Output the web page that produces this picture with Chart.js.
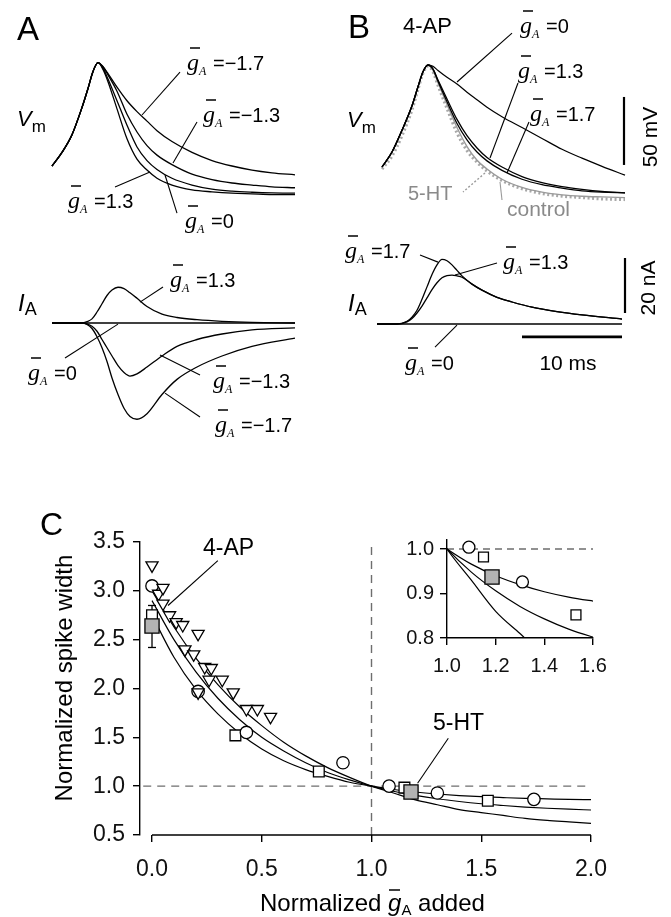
<!DOCTYPE html>
<html>
<head>
<meta charset="utf-8">
<title>A-current and spike width</title>
<script src="https://cdn.jsdelivr.net/npm/chart.js@4.4.1/dist/chart.umd.min.js"></script>
<style>
  html, body { margin: 0; padding: 0; background: #fff; }
  #page { position: relative; width: 671px; height: 917px; overflow: hidden; background: #fff; }
  #page canvas { position: absolute; }
  #ov { position: absolute; left: 0; top: 0; pointer-events: none; }
  #ov text { font-family: "Liberation Sans", Arial, sans-serif; }
</style>
</head>
<body>
<div id="page">
  <canvas id="aVm"></canvas>
  <canvas id="aIA"></canvas>
  <canvas id="bVm"></canvas>
  <canvas id="bIA"></canvas>
  <canvas id="cMain"></canvas>
  <canvas id="cInset"></canvas>
  <svg id="ov" width="671" height="917" xmlns="http://www.w3.org/2000/svg"></svg>
</div>
<script>
// ---- Panel A: model spikes (time in ms, Vm in mV from onset, IA in nA) ----
const tA = [0, 1, 2, 3, 3.6, 4.1, 4.6, 5.1, 5.6, 6.5, 7.5, 8.5, 9.5, 10.5, 12, 14, 16, 18, 20, 22, 24.3];
const vmA_gp13 = [0, 10, 23, 43, 57, 69.5, 76, 71, 62, 42, 20, 5, -3, -9, -14, -17.5, -19, -20, -20.5, -21, -21];
const vmA_g0   = [0, 10, 23, 43, 57, 69.5, 76, 72, 64, 48, 30, 14, 4, -2.5, -9, -14, -17, -18.5, -19.3, -19.8, -20];
const vmA_gm13 = [0, 10, 23, 43, 57, 69.5, 76, 73, 67, 55, 38, 25, 15, 8, 1, -6, -10, -12.5, -14, -15.3, -16];
const vmA_gm17 = [0, 10, 23, 43, 57, 69.5, 76, 73, 68, 58, 48, 40, 33, 26, 18, 10, 4, 0, -3, -5, -6.5];

const tIA = [0, 2, 3, 3.5, 4, 4.5, 5, 5.5, 6, 6.6, 7.2, 7.8, 8.5, 9.5, 11, 12.5, 14.5, 17, 20, 24.3];
const iaA_gp13 = [0, 0, 0, 0.5, 1.5, 4, 7, 10, 12, 13, 12.5, 11, 9, 6, 3.2, 2, 1.2, 0.6, 0.2, 0];
const iaA_g0   = [0, 0, 0, 0, 0, 0, 0, 0, 0, 0, 0, 0, 0, 0, 0, 0, 0, 0, 0, 0];
const iaA_gm13 = [0, 0, 0, -0.3, -1.2, -3, -6, -9, -12, -15.5, -18, -19.3, -18.5, -16, -12, -8.5, -6, -4, -2.5, -1.8];
const iaA_gm17 = [0, 0, 0, -0.5, -2, -5, -9, -14, -20, -26, -31, -34, -35, -33, -26, -20.5, -16, -12, -8.5, -5.5];

// ---- Panel B: 4-AP spike with gA added back, control and 5-HT ----
const tB = [0, 1, 2, 3, 3.6, 4.1, 4.6, 5.1, 5.6, 6.5, 7.5, 8.5, 9.5, 10.5, 12, 14, 16, 18, 20, 22, 24.3];
const vmB_g0   = [0, 11, 27, 45, 59, 70, 75, 74, 71, 66, 61, 55, 49.5, 44, 37, 29, 21, 13, 6.5, 0.5, -6];
const vmB_g13  = [0, 11, 27, 45, 59, 70, 75, 72, 64, 50, 35, 23, 14, 7, 0, -7, -11.5, -14.5, -16.5, -18, -19];
const vmB_g17  = [0, 11, 27, 45, 59, 70, 75, 72, 63, 48, 32, 20, 11, 4.5, -2.5, -9, -13, -15.5, -17.5, -18.5, -19];
const vmB_ctl  = [0, 11, 27, 45, 59, 70, 75, 71, 62, 46, 29, 15, 5, -1.5, -9, -15, -18.5, -20.5, -21.5, -22, -22.5];
const vmB_5ht  = [-1.5, 8, 23, 42, 57, 69, 74, 70, 60, 43, 25, 12, 3.5, -3, -10, -16, -19.5, -21.5, -22.5, -23.5, -24];

const tIB = [-0.5, 1.5, 2.5, 3, 3.5, 4, 4.5, 5, 5.5, 6, 6.5, 7, 7.5, 8, 9, 10, 11.5, 13, 15, 17.5, 20, 24];
const iaB_g17 = [0, 0, 1, 2.5, 5, 9, 13.5, 18, 21.5, 23.5, 23, 21.5, 19.5, 17.5, 14.5, 12.3, 9.7, 8, 6.1, 4.5, 3.3, 1.8];
const iaB_g13 = [0, 0, 0.8, 2, 4, 6.5, 9.5, 12.5, 15, 16.8, 17.6, 17.8, 17.5, 17, 14.5, 12.3, 9.7, 8, 6.1, 4.5, 3.3, 1.8];
const iaB_g0  = [0, 0, 0, 0, 0, 0, 0, 0, 0, 0, 0, 0, 0, 0, 0, 0, 0, 0, 0, 0, 0, 0];

// scale bars [x1, y1, x2, y2] in data units
const barVm = [24.2, 1.5, 24.2, 51.5];   // 50 mV
const barIA = [24.3, 4, 24.3, 24];       // 20 nA
const barMs = [14, -4.7, 24, -4.7];      // 10 ms

// label pointer lines [x1, y1, x2, y2] in data units
const ptrAVm = [[9.0, 37.5, 12.8, 69.1], [12.1, 2.2, 14.5, 32.4], [6.3, -15.4, 9.8, -4.4], [11.3, -6.6, 12.5, -34.6]];
const ptrAIA = [[8.8, 7.6, 11.1, 13.1], [6.6, -0.4, 1.3, -12.7], [10.8, -11.6, 14.8, -18.9], [11.3, -25.5, 14.8, -34.2]];
const ptrBVm = [[7.5, 62.5, 13.0, 98.5], [10.8, 6.6, 13.6, 61.8], [12.5, -4.4, 14.7, 33.1]];
const ptrBCtl = [11.8, -11, 12.0, -24.3];
const ptr5HT = [10.3, -4.4, 8.1, -18.4];
const ptrBIA = [[3.8, 25.1, 5.6, 22.5], [11.5, 22.2, 7.3, 17.8], [5.3, -8.4, 7.5, -0.4]];

// ---- Panel C: normalized spike width vs normalized gA added ----
const tri4apX = [0, 0.03, 0.05, 0.05, 0.08, 0.11, 0.14, 0.21, 0.15, 0.19, 0.24, 0.27, 0.26, 0.32, 0.37, 0.21, 0.43, 0.48, 0.54];
const tri4apY = [3.26, 2.97, 3.03, 2.87, 2.75, 2.68, 2.65, 2.56, 2.40, 2.35, 2.22, 2.21, 2.09, 2.09, 1.96, 1.96, 1.79, 1.79, 1.71];
const circX = [0, 0.21, 0.43, 0.87, 1.08, 1.30, 1.74];
const circY = [3.05, 1.97, 1.55, 1.24, 1.0, 0.93, 0.865];
const sqX = [0, 0.38, 0.76, 1.15, 1.53];
const sqY = [2.75, 1.52, 1.15, 0.985, 0.85];
const graySqX = [0, 1.18];
const graySqY = [2.64, 0.94];
const errX = [0, 0];
const errY = [2.42, 2.85];

const fitX    = [0, 0.1, 0.2, 0.3, 0.4, 0.5, 0.6, 0.7, 0.8, 0.9, 1.0, 1.1, 1.2, 1.3, 1.4, 1.5, 1.6, 1.7, 1.8, 1.9, 2.0];
const fitTri  = [3.0, 2.63, 2.31, 2.04, 1.81, 1.62, 1.45, 1.31, 1.19, 1.09, 1.0, 0.93, 0.86, 0.81, 0.76, 0.73, 0.70, 0.67, 0.65, 0.635, 0.62];
const fitSq   = [2.90, 2.50, 2.17, 1.90, 1.68, 1.50, 1.36, 1.24, 1.14, 1.064, 1.0, 0.948, 0.906, 0.871, 0.843, 0.82, 0.802, 0.786, 0.774, 0.764, 0.756];
const fitCirc = [2.75, 2.32, 1.99, 1.74, 1.54, 1.38, 1.26, 1.17, 1.10, 1.04, 1.0, 0.966, 0.94, 0.92, 0.904, 0.892, 0.883, 0.875, 0.87, 0.865, 0.862];

const xTicksC = [0, 0.5, 1.0, 1.5, 2.0];
const yTicksC = [0.5, 1.0, 1.5, 2.0, 2.5, 3.0, 3.5];
const ptrC = [[0.30, 3.31, 0.073, 2.85], [1.35, 1.49, 1.21, 1.03]];

// inset (zoom of x 1.0-1.6)
const inCircX = [1.09, 1.31];
const inCircY = [1.004, 0.926];
const inSqX = [1.15, 1.53];
const inSqY = [0.982, 0.852];
const inGrayX = [1.185];
const inGrayY = [0.937];
const xTicksIn = [1.0, 1.2, 1.4, 1.6];
const yTicksIn = [0.8, 0.9, 1.0];

// ---------------------------------------------------------------
Chart.defaults.font.family = '"Liberation Sans", Arial, sans-serif';
Chart.defaults.color = '#000';

const GRAY = '#9a9a9a';

function pts(xs, ys) { return xs.map((x, i) => ({ x: x, y: ys[i] })); }

function curve(xs, ys, color, width, dash) {
  return {
    data: pts(xs, ys), showLine: true, borderColor: color, borderWidth: width,
    borderDash: dash || [], pointRadius: 0, fill: false, cubicInterpolationMode: 'monotone'
  };
}

function seg(s, color, width, dash) {
  return {
    data: [{ x: s[0], y: s[1] }, { x: s[2], y: s[3] }], showLine: true, borderColor: color,
    borderWidth: width, borderDash: dash || [], pointRadius: 0, fill: false, tension: 0
  };
}

function markers(xs, ys, style, r, fillCol, extra) {
  return Object.assign({
    data: pts(xs, ys), showLine: false, pointStyle: style, pointRadius: r,
    pointBackgroundColor: fillCol, pointBorderColor: '#000', pointBorderWidth: 1.3
  }, extra || {});
}

// trace panel: canvas placed in page px, scales chosen so origin/px-per-unit match the figure
function tracePanel(id, box, ox, oy, sx, sy, datasets) {
  const cv = document.getElementById(id);
  cv.width = box.w; cv.height = box.h;
  cv.style.left = box.left + 'px'; cv.style.top = box.top + 'px';
  new Chart(cv, {
    type: 'scatter',
    data: { datasets: datasets },
    options: {
      responsive: false, animation: false, events: [],
      layout: { padding: 0 },
      plugins: { legend: { display: false }, tooltip: { enabled: false } },
      scales: {
        x: { type: 'linear', display: false, min: (box.left - ox) / sx, max: (box.left + box.w - ox) / sx },
        y: { type: 'linear', display: false, min: (oy - box.top - box.h) / sy, max: (oy - box.top) / sy }
      }
    }
  });
}

const MS = 10, MV = 1.36, NA = 2.75;   // px per ms, per mV, per nA
const K = '#000';

tracePanel('aVm', { left: 0, top: 30, w: 330, h: 200 }, 52, 166, MS, MV, [
  curve(tA, vmA_gp13, K, 1.3), curve(tA, vmA_g0, K, 1.3),
  curve(tA, vmA_gm13, K, 1.3), curve(tA, vmA_gm17, K, 1.3)
].concat(ptrAVm.map(p => seg(p, K, 1.1))));

tracePanel('aIA', { left: 0, top: 245, w: 330, h: 205 }, 52, 323, MS, NA, [
  curve(tIA, iaA_gp13, K, 1.3), curve(tIA, iaA_g0, K, 1.6),
  curve(tIA, iaA_gm13, K, 1.3), curve(tIA, iaA_gm17, K, 1.3)
].concat(ptrAIA.map(p => seg(p, K, 1.1))));

tracePanel('bVm', { left: 335, top: 15, w: 330, h: 225 }, 382, 167, MS, MV, [
  curve(tB, vmB_g0, K, 1.2), curve(tB, vmB_g13, K, 1.3), curve(tB, vmB_g17, K, 1.3),
  curve(tB, vmB_ctl, GRAY, 1.4),
  curve(tB, vmB_5ht, '#a8a8a8', 3, [2, 2.5]),
  seg(barVm, K, 2.2), seg(ptrBCtl, GRAY, 1.1), seg(ptr5HT, GRAY, 1.4, [2, 2])
].concat(ptrBVm.map(p => seg(p, K, 1.1))));

tracePanel('bIA', { left: 335, top: 240, w: 330, h: 115 }, 382, 324, MS, NA, [
  curve(tIB, iaB_g17, K, 1.3), curve(tIB, iaB_g13, K, 1.3), curve(tIB, iaB_g0, K, 1.6),
  seg(barIA, K, 2.2), seg(barMs, K, 2.8)
].concat(ptrBIA.map(p => seg(p, K, 1.1))));

// draws the detached x axis line of panel C from opts.from to opts.to
const xAxisLine = {
  id: 'xAxisLine',
  afterDatasetsDraw(chart, args, opts) {
    if (opts.from === undefined) return;
    const { ctx, scales: { x, y } } = chart;
    const py = y.getPixelForValue(y.min);
    ctx.save();
    ctx.strokeStyle = '#000'; ctx.lineWidth = 1.4;
    ctx.beginPath();
    ctx.moveTo(x.getPixelForValue(opts.from), py);
    ctx.lineTo(x.getPixelForValue(opts.to), py);
    ctx.stroke();
    ctx.restore();
  }
};

function axisOpts(min, max, ticks, size, pad, fitProp, fitVal, borderOn) {
  return {
    type: 'linear', min: min, max: max,
    afterFit: s => { s[fitProp] = fitVal; },
    afterBuildTicks: s => { s.ticks = ticks.map(v => ({ value: v })); },
    border: { display: borderOn, color: '#000', width: 1.4 },
    grid: { drawOnChartArea: false, drawTicks: true, tickLength: 7, color: '#000', lineWidth: 1.4 },
    ticks: { color: '#111', font: { size: size }, padding: pad, maxRotation: 0, autoSkip: false,
             callback: v => Number(v).toFixed(1) }
  };
}

// main panel C
(function () {
  const cv = document.getElementById('cMain');
  cv.width = 671; cv.height = 437;
  cv.style.left = '0px'; cv.style.top = '480px';
  const dashCol = '#6e6e6e';
  new Chart(cv, {
    type: 'scatter',
    data: {
      datasets: [
        markers(graySqX, graySqY, 'rect', 10, '#b3b3b3'),
        markers(tri4apX, tri4apY, 'triangle', 7, '#fff', { pointRotation: 180 }),
        markers(circX, circY, 'circle', 6.2, '#fff'),
        markers(sqX, sqY, 'rect', 7.6, '#fff'),
        Object.assign(seg([errX[0], errY[0], errX[1], errY[1]], K, 1.3),
          { pointStyle: 'line', pointRadius: 4, pointBorderColor: K, pointBorderWidth: 1.3 }),
        curve(fitX, fitTri, K, 1.2), curve(fitX, fitSq, K, 1.2), curve(fitX, fitCirc, K, 1.2),
        seg(ptrC[0], K, 1.1), seg(ptrC[1], K, 1.1),
        seg([-0.04, 1, 1.98, 1], dashCol, 1.4, [8, 6]),
        seg([1, 0.5, 1, 3.52], dashCol, 1.4, [8, 6])
      ]
    },
    options: {
      responsive: false, animation: false, events: [],
      layout: { padding: { left: 80, right: 80, top: 62, bottom: 37 } },
      plugins: { legend: { display: false }, tooltip: { enabled: false }, xAxisLine: { from: 0, to: 2 } },
      scales: {
        x: axisOpts(-0.0547, 2.0, xTicksC, 23, 14, 'height', 45, false),
        y: axisOpts(0.5, 3.5, yTicksC, 23, 8, 'width', 60, true)
      }
    },
    plugins: [xAxisLine]
  });
})();

// inset
(function () {
  const cv = document.getElementById('cInset');
  cv.width = 250; cv.height = 175;
  cv.style.left = '380px'; cv.style.top = '515px';
  new Chart(cv, {
    type: 'scatter',
    data: {
      datasets: [
        markers(inGrayX, inGrayY, 'rect', 10, '#b3b3b3'),
        markers(inCircX, inCircY, 'circle', 6, '#fff'),
        markers(inSqX, inSqY, 'rect', 7, '#fff'),
        curve(fitX, fitTri, K, 1.2), curve(fitX, fitSq, K, 1.2), curve(fitX, fitCirc, K, 1.2),
        seg([1.0, 1.0, 1.6, 1.0], '#6e6e6e', 1.4, [7, 5])
      ]
    },
    options: {
      responsive: false, animation: false, events: [],
      layout: { padding: { left: 20, right: 37, top: 25, bottom: 12 } },
      plugins: { legend: { display: false }, tooltip: { enabled: false } },
      scales: {
        x: axisOpts(1.0, 1.6, xTicksIn, 20, 9, 'height', 40, true),
        y: axisOpts(0.8, 1.0202, yTicksIn, 20, 6, 'width', 47, true)
      }
    }
  });
})();

// ---- text overlay ----
let svg = '';
function txt(x, y, s, size, extra) {
  svg += `<text x="${x}" y="${y}" font-size="${size}" ${extra || ''}>${s}</text>`;
}
// g-bar subscript A label: x = left of g, y = baseline
function gLabel(x, y, rest, color) {
  const c = color || '#000';
  svg += `<line x1="${x + 3}" y1="${y - 22}" x2="${x + 13}" y2="${y - 22}" stroke="${c}" stroke-width="1.5"/>`;
  svg += `<text x="${x}" y="${y}" fill="${c}"><tspan font-family="Liberation Serif" font-style="italic" font-size="24">g</tspan>` +
         `<tspan font-family="Liberation Serif" font-style="italic" font-size="12" dy="5">A</tspan>` +
         `<tspan font-size="20" dy="-5" x="${x + 26}">${rest}</tspan></text>`;
}

txt(17, 40, 'A', 33);
txt(348, 38, 'B', 33);
txt(40, 535, 'C', 32);
txt(403, 33, '4-AP', 22);

svg += `<text x="17" y="126" font-size="22"><tspan font-style="italic">V</tspan><tspan font-size="17" dy="6">m</tspan></text>`;
svg += `<text x="347" y="127" font-size="22"><tspan font-style="italic">V</tspan><tspan font-size="17" dy="6">m</tspan></text>`;
svg += `<text x="18" y="311" font-size="24"><tspan font-style="italic">I</tspan><tspan font-size="18" dy="4">A</tspan></text>`;
svg += `<text x="348" y="311" font-size="24"><tspan font-style="italic">I</tspan><tspan font-size="18" dy="4">A</tspan></text>`;

const gLabels = [
  [187, 70, '=\u22121.7'], [203, 122, '=\u22121.3'], [68, 208, '=1.3'], [185, 228, '=0'],
  [170, 287, '=1.3'], [28, 380, '=0'], [213, 388, '=\u22121.3'], [215, 432, '=\u22121.7'],
  [520, 33, '=0'], [518, 78, '=1.3'], [530, 121, '=1.7'],
  [345, 258, '=1.7'], [503, 269, '=1.3'], [405, 370, '=0']
];
gLabels.forEach(l => gLabel(l[0], l[1], l[2]));

txt(408, 200, '5-HT', 20, 'fill="#8a8a8a"');
txt(507, 216, 'control', 21, 'fill="#8a8a8a"');
svg += `<text transform="translate(657,137) rotate(-90)" text-anchor="middle" font-size="21">50 mV</text>`;
svg += `<text transform="translate(655,288) rotate(-90)" text-anchor="middle" font-size="21">20 nA</text>`;
txt(568, 370, '10 ms', 21, 'text-anchor="middle"');

txt(203, 555, '4-AP', 23);
txt(433, 730, '5-HT', 23);
svg += `<text transform="translate(72,678) rotate(-90)" text-anchor="middle" font-size="24">Normalized spike width</text>`;
svg += `<line x1="389" y1="890" x2="400" y2="890" stroke="#000" stroke-width="1.5"/>`;
svg += `<text x="260" y="911" font-size="24">Normalized <tspan font-style="italic">g</tspan><tspan font-size="15" dy="4">A</tspan><tspan dy="-4"> added</tspan></text>`;

document.getElementById('ov').innerHTML = svg;
</script>
</body>
</html>
